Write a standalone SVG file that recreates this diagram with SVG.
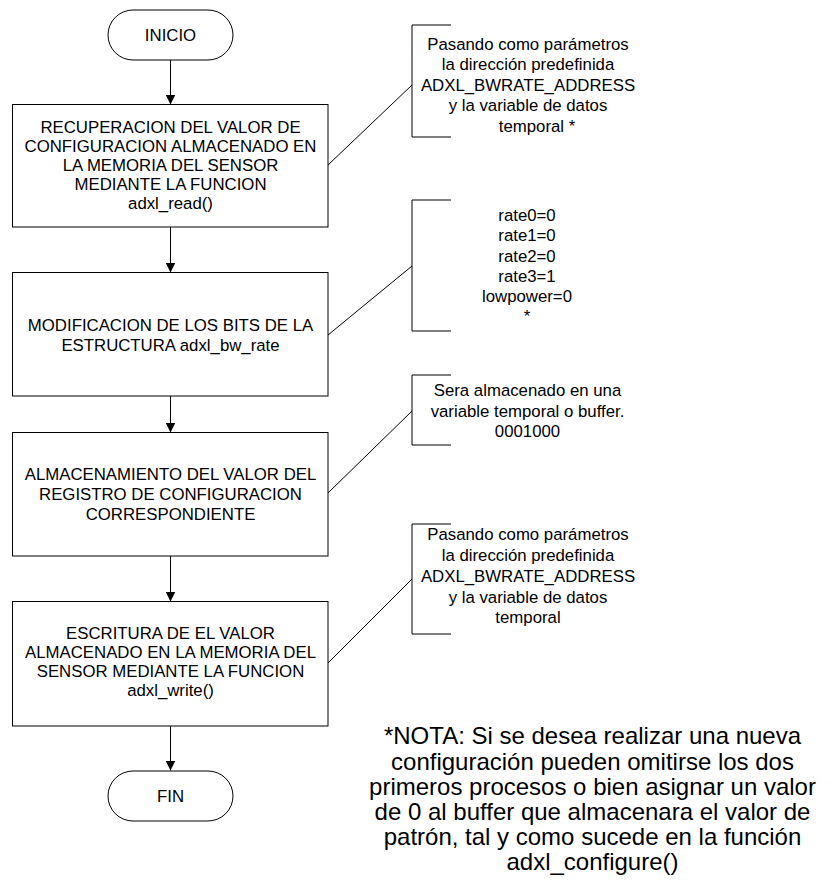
<svg xmlns="http://www.w3.org/2000/svg" width="834" height="896" viewBox="0 0 834 896">
<defs>
<marker id="arr" viewBox="0 0 10 10" refX="10" refY="5" markerWidth="10" markerHeight="10" markerUnits="userSpaceOnUse" orient="auto">
<path d="M0,0 L10,5 L0,10 Z" fill="#000"/>
</marker>
<style>
.shape{fill:#fff;stroke:#000;stroke-width:1}
.line{fill:none;stroke:#000;stroke-width:1}
text{font-family:"Liberation Sans",Arial,sans-serif;font-size:16.8px;fill:#000;text-anchor:middle}
.note{font-size:24px}
</style>
</defs>
<rect width="834" height="896" fill="#fff"/>
<g id="connectors">
<line class="line" x1="170.5" y1="60" x2="170.5" y2="104.5" marker-end="url(#arr)"/>
<line class="line" x1="170.5" y1="227" x2="170.5" y2="272.5" marker-end="url(#arr)"/>
<line class="line" x1="170.5" y1="396" x2="170.5" y2="432.5" marker-end="url(#arr)"/>
<line class="line" x1="170.5" y1="556" x2="170.5" y2="601.5" marker-end="url(#arr)"/>
<line class="line" x1="170.5" y1="726" x2="170.5" y2="770.5" marker-end="url(#arr)"/>
<line class="line" x1="328" y1="165" x2="412" y2="85"/>
<line class="line" x1="328" y1="335" x2="412" y2="266"/>
<line class="line" x1="328" y1="493" x2="412" y2="411"/>
<line class="line" x1="328" y1="663" x2="412" y2="579"/>
</g>
<g id="inicio">
<rect class="shape" x="108" y="10" width="125" height="50" rx="25" ry="25"/>
<text x="170.5" y="41">INICIO</text>
</g>
<g id="box1">
<rect class="shape" x="12.5" y="104.5" width="315.5" height="122.5"/>
<text x="170.5" y="132.5">RECUPERACION DEL VALOR DE</text>
<text x="170.5" y="151.5">CONFIGURACION ALMACENADO EN</text>
<text x="170.5" y="170.8">LA MEMORIA DEL SENSOR</text>
<text x="170.5" y="190">MEDIANTE LA FUNCION</text>
<text x="170.5" y="209">adxl_read()</text>
</g>
<g id="box2">
<rect class="shape" x="12.5" y="272.5" width="315.5" height="123.5"/>
<text x="170.5" y="331">MODIFICACION DE LOS BITS DE LA</text>
<text x="170.5" y="350.5">ESTRUCTURA adxl_bw_rate</text>
</g>
<g id="box3">
<rect class="shape" x="12.5" y="432.5" width="315.5" height="123.5"/>
<text x="170.5" y="480">ALMACENAMIENTO DEL VALOR DEL</text>
<text x="170.5" y="500">REGISTRO DE CONFIGURACION</text>
<text x="170.5" y="520">CORRESPONDIENTE</text>
</g>
<g id="box4">
<rect class="shape" x="12.5" y="601.5" width="315.5" height="124.5"/>
<text x="170.5" y="638.5">ESCRITURA DE EL VALOR</text>
<text x="170.5" y="657.8">ALMACENADO EN LA MEMORIA DEL</text>
<text x="170.5" y="677">SENSOR MEDIANTE LA FUNCION</text>
<text x="170.5" y="696">adxl_write()</text>
</g>
<g id="fin">
<rect class="shape" x="108" y="771" width="125" height="50" rx="25" ry="25"/>
<text x="170.5" y="802">FIN</text>
</g>
<g id="note1">
<path class="line" d="M451,25 H412 V137 H451"/>
<text x="528" y="49.5">Pasando como parámetros</text>
<text x="528" y="70">la dirección predefinida</text>
<text x="528" y="90.5">ADXL_BWRATE_ADDRESS</text>
<text x="528" y="111">y la variable de datos</text>
<text x="537" y="131.5">temporal *</text>
</g>
<g id="note2">
<path class="line" d="M451,200 H412 V331 H451"/>
<text x="527" y="221">rate0=0</text>
<text x="527" y="241">rate1=0</text>
<text x="527" y="261.5">rate2=0</text>
<text x="527" y="282">rate3=1</text>
<text x="527" y="302">lowpower=0</text>
<text x="527" y="322">*</text>
</g>
<g id="note3">
<path class="line" d="M451,375 H412 V445 H451"/>
<text x="527.5" y="396">Sera almacenado en una</text>
<text x="527.5" y="417">variable temporal o buffer.</text>
<text x="527.5" y="437">0001000</text>
</g>
<g id="note4">
<path class="line" d="M451,524 H412 V634 H451"/>
<text x="528" y="540">Pasando como parámetros</text>
<text x="528" y="561">la dirección predefinida</text>
<text x="528" y="582">ADXL_BWRATE_ADDRESS</text>
<text x="528" y="602.5">y la variable de datos</text>
<text x="528" y="623">temporal</text>
</g>
<g id="nota">
<text class="note" x="592.5" y="744">*NOTA: Si se desea realizar una nueva</text>
<text class="note" x="592.5" y="769.5">configuración pueden omitirse los dos</text>
<text class="note" x="592.5" y="794.5">primeros procesos o bien asignar un valor</text>
<text class="note" x="592.5" y="819.5">de 0 al buffer que almacenara el valor de</text>
<text class="note" x="592.5" y="844.5">patrón, tal y como sucede en la función</text>
<text class="note" x="592.5" y="869.5">adxl_configure()</text>
</g>
</svg>
